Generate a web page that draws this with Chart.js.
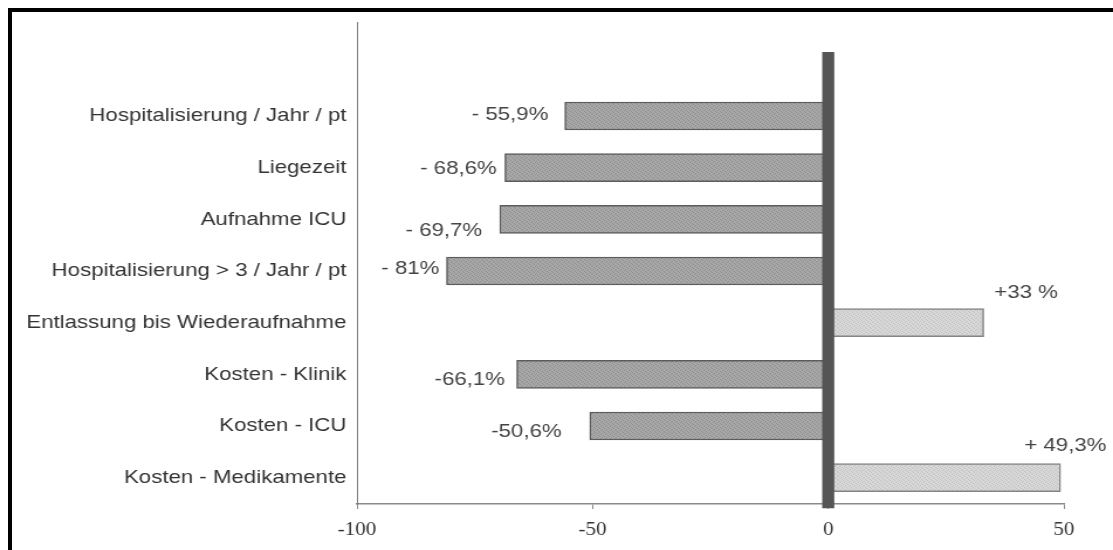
<!DOCTYPE html>
<html>
<head>
<meta charset="utf-8">
<script src="https://cdn.jsdelivr.net/npm/chart.js@4.4.1/dist/chart.umd.min.js"></script>
<style>
  html, body { margin: 0; padding: 0; background: #fff; }
  #wrap { position: relative; width: 1113px; height: 550px; overflow: hidden; background: #fff; }
  #chart { position: absolute; left: 0; top: 0; }
  #frame { position: absolute; left: 8px; top: 8px; right: 0; bottom: 0;
           border-top: 4px solid #000; border-left: 4px solid #000; pointer-events: none; }
</style>
</head>
<body>
<div id="wrap">
  <canvas id="chart" width="951" height="550" style="width:1113px;height:550px"></canvas>
  <div id="frame"></div>
</div>
<script>
// Veränderung gegenüber dem Vorjahr (in %)
const categories = [
  'Hospitalisierung / Jahr / pt',
  'Liegezeit',
  'Aufnahme ICU',
  'Hospitalisierung > 3 / Jahr / pt',
  'Entlassung bis Wiederaufnahme',
  'Kosten - Klinik',
  'Kosten - ICU',
  'Kosten - Medikamente'
];
const values = [-55.9, -68.6, -69.7, -81, 33, -66.1, -50.6, 49.3];
const valueLabels = ['- 55,9%', '- 68,6%', '- 69,7%', '- 81%', '+33 %', '-66,1%', '-50,6%', '+ 49,3%'];
const xTicks = [-100, -50, 0, 50];

// where each value label sits relative to the end of its bar: [gap, vertical shift]
const labelOffsets = [[14, -1], [7, 1], [15, 11], [6, -2], [9, -30], [10, 5], [24, 6], [-31, -32]];
// vertical reach of the heavy zero line, in category units
const zeroLineSpan = [-1.24, 7.59];

// small stippled tile used as bar fill
function stipple(base, dot) {
  const t = document.createElement('canvas');
  t.width = 4; t.height = 4;
  const g = t.getContext('2d');
  g.fillStyle = base;
  g.fillRect(0, 0, 4, 4);
  g.fillStyle = dot;
  [[0, 0], [2, 1], [1, 2], [3, 3]].forEach(([x, y]) => g.fillRect(x, y, 1, 1));
  return g.createPattern(t, 'repeat');
}

const NEG_FILL = stipple('#a8a8a8', '#8e8e8e'), NEG_EDGE = '#5c5c5c';
const POS_FILL = stipple('#d8d8d8', '#c0c0c0'), POS_EDGE = '#848484';

const valueLabelPlugin = {
  id: 'valueLabels',
  afterDatasetsDraw(chart) {
    const ctx = chart.ctx;
    const bars = chart.getDatasetMeta(1).data;
    ctx.save();
    ctx.font = '19px "Liberation Sans", Arial, sans-serif';
    ctx.fillStyle = '#444';
    ctx.textBaseline = 'middle';
    values.forEach((v, i) => {
      const bar = bars[i];
      const [dx, dy] = labelOffsets[i];
      if (v < 0) {
        ctx.textAlign = 'right';
        ctx.fillText(valueLabels[i], bar.x - dx, bar.y + dy);
      } else {
        ctx.textAlign = 'left';
        ctx.fillText(valueLabels[i], bar.x + dx, bar.y + dy);
      }
    });
    ctx.restore();
  }
};

new Chart(document.getElementById('chart'), {
  data: {
    datasets: [
      {
        type: 'line',
        data: zeroLineSpan.map(y => ({ x: 0, y })),
        borderColor: '#555',
        borderWidth: 10.3,
        pointRadius: 0,
        fill: false,
        clip: false,
        order: 1
      },
      {
        type: 'bar',
        data: values.map((v, i) => ({ x: v, y: i })),
        backgroundColor: values.map(v => v < 0 ? NEG_FILL : POS_FILL),
        borderColor: values.map(v => v < 0 ? NEG_EDGE : POS_EDGE),
        borderWidth: 1.5,
        borderSkipped: false,
        barThickness: 28,
        order: 2
      }
    ]
  },
  options: {
    indexAxis: 'y',
    responsive: false,
    animation: false,
    layout: { padding: { top: 22, right: 42, bottom: 0, left: 0 } },
    plugins: { legend: { display: false }, tooltip: { enabled: false } },
    scales: {
      x: {
        type: 'linear',
        min: -100,
        max: 50,
        offset: false,
        afterBuildTicks: s => { s.ticks = xTicks.map(v => ({ value: v })); },
        afterFit: s => { s.height = 46; },
        grid: { display: true, drawOnChartArea: false, drawTicks: true, tickLength: 5, color: '#8a8a8a', lineWidth: 1 },
        border: { display: true, color: '#8a8a8a', width: 1.5 },
        ticks: {
          padding: 10,
          color: '#333',
          maxRotation: 0,
          font: { family: '"Liberation Serif", "Times New Roman", serif', size: 18 },
          callback: v => String(v)
        }
      },
      y: {
        type: 'linear',
        reverse: true,
        offset: false,
        min: -1.82,
        max: 7.51,
        afterBuildTicks: s => { s.ticks = categories.map((_, i) => ({ value: i })); },
        afterFit: s => { s.width = 305; },
        grid: { display: false, drawTicks: false, offset: false },
        border: { display: true, color: '#7a7a7a', width: 1 },
        ticks: {
          autoSkip: false,
          padding: 9,
          color: '#333',
          font: { family: '"Liberation Sans", Arial, sans-serif', size: 19 },
          callback: v => categories[v]
        }
      }
    }
  },
  plugins: [valueLabelPlugin]
});
</script>
</body>
</html>
